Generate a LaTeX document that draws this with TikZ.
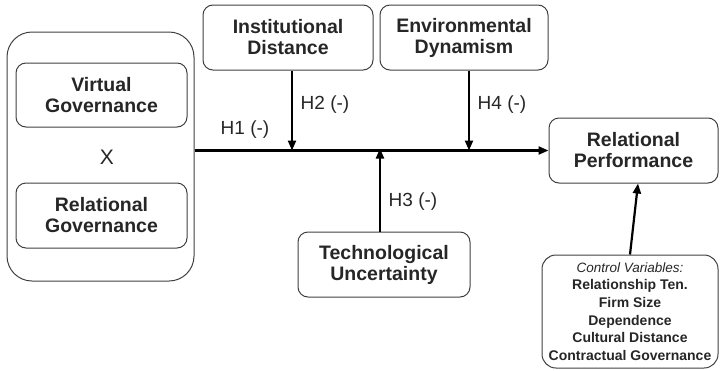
\documentclass[tikz,border=0pt]{standalone}
\usepackage{fontspec}
\setmainfont{Liberation Sans}
\usetikzlibrary{arrows.meta}

\tikzset{
  box/.style={draw=black!75, line width=1pt, rounded corners=10pt, align=center,
    inner sep=0pt, text=black!85, font=\fontsize{19.5}{21}\selectfont\bfseries},
  hyp/.style={text=black!85, font=\fontsize{19}{20}\selectfont},
  link/.style={line width=2.2pt, -{Triangle[length=10pt,width=8pt]}}
}

\begin{document}
\begin{tikzpicture}[x=1pt,y=-1pt]
  \useasboundingbox (0,0) rectangle (720,370);

  % Interaction block
  \node[box, rounded corners=25pt, minimum width=187pt, minimum height=249pt] (gov) at (100.5,156.5) {};
  \node[box, minimum width=171pt, minimum height=64pt] (virt) at (101.5,95) {Virtual\\Governance};
  \node[hyp, font=\fontsize{21}{21}\selectfont] (times) at (107,157) {X};
  \node[box, minimum width=171pt, minimum height=65pt] (rel) at (101.5,215.5) {Relational\\Governance};

  % Moderators
  \node[box, minimum width=170pt, minimum height=65pt] (inst) at (288,37.5) {Institutional\\Distance};
  \node[box, minimum width=168pt, minimum height=65pt] (env) at (464,37.5) {Environmental\\Dynamism};
  \node[box, minimum width=172pt, minimum height=65pt] (tech) at (384,264.5) {Technological\\Uncertainty};

  % Outcome and controls
  \node[box, minimum width=169pt, minimum height=65pt] (perf) at (633.5,150.5) {Relational\\Performance};
  \node[box, rounded corners=14pt, minimum width=176pt, minimum height=113pt,
    font=\fontsize{14}{17.6}\selectfont\bfseries] (ctrl) at (630,311.5)
    {{\mdseries\itshape\fontsize{13.5}{17.6}\selectfont Control Variables:}\\Relationship Ten.\\Firm Size\\Dependence\\Cultural Distance\\Contractual Governance};

  % Main path
  \draw[link] (gov.east |- perf.west) -- (perf.west);
  \coordinate (m2) at (292,150.5);
  \coordinate (m3) at (380,150.5);
  \coordinate (m4) at (469,150.5);
  \draw[link] (inst.south -| m2) -- (m2);
  \draw[link] (env.south -| m4) -- (m4);
  \draw[link] (tech.north -| m3) -- ([yshift=2pt]m3);
  \draw[link] (ctrl.north) -- ([xshift=4.5pt]perf.south);

  % Hypotheses
  \node[hyp] (h1) at (245,130) {H1 (-)};
  \node[hyp] (h2) at (325,105) {H2 (-)};
  \node[hyp] (h3) at (413,202) {H3 (-)};
  \node[hyp] (h4) at (502,105) {H4 (-)};
\end{tikzpicture}
\end{document}
